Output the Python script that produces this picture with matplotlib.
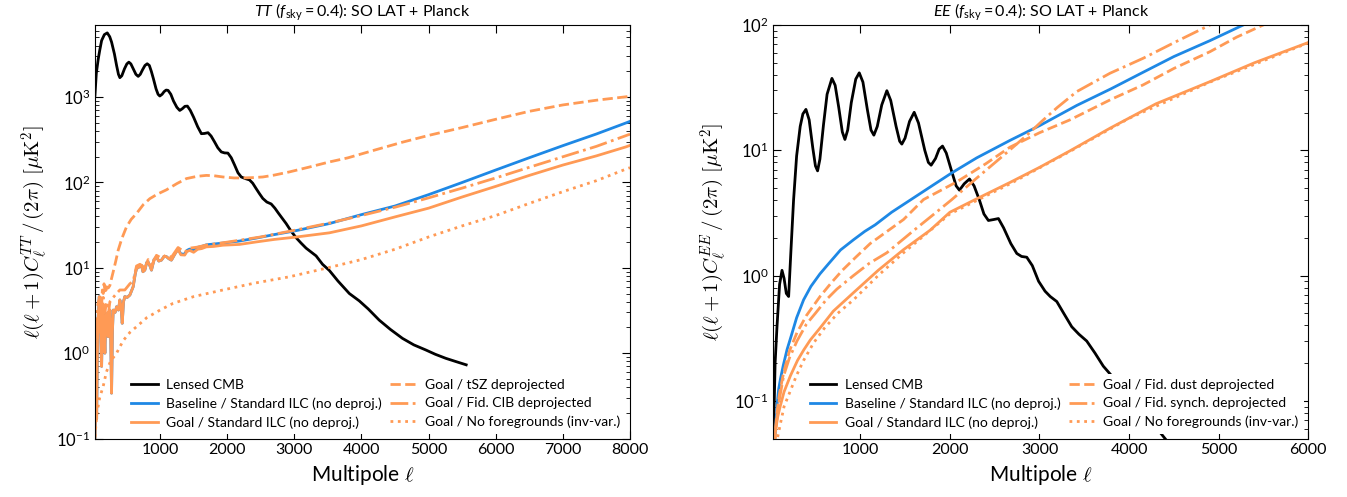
import matplotlib
matplotlib.use("Agg")
import matplotlib.pyplot as plt

plt.rcParams['font.family'] = ['Lato', 'DejaVu Sans']
plt.rcParams['mathtext.fontset'] = 'cm'
# sans math for the panel titles only
plt.rcParams['mathtext.rm'] = 'Lato'
plt.rcParams['mathtext.it'] = 'Lato:italic'
plt.rcParams['mathtext.bf'] = 'Lato:bold'

BLUE = '#1e88e5'
ORANGE = '#ff9a55'

# ---------------- TT panel ----------------
tt_cmb_ell = [30, 50, 79, 100, 129, 170, 213, 250, 278, 320, 352, 380, 401, 430, 470, 505, 535, 565,
              600, 640, 674, 705, 740, 775, 808, 840, 870, 900, 940, 970, 996, 1030, 1060, 1090,
              1119, 1160, 1200, 1250, 1293, 1330, 1370, 1407, 1450, 1500, 1560, 1615, 1660, 1714,
              1760, 1810, 1860, 1912, 1960, 2010, 2060, 2110, 2160, 2209, 2270, 2333, 2380, 2430,
              2480, 2530, 2590, 2655, 2710, 2760, 2820, 2878, 2950, 3027, 3100, 3175, 3250, 3324,
              3420, 3522, 3650, 3819, 3967, 4100, 4264, 4430, 4611, 4780, 4958, 5100, 5256, 5400,
              5560]
tt_cmb = [1050, 1900, 2800, 3500, 4600, 5400, 5660, 5100, 4400, 3200, 2350, 1850, 1690, 1780, 2150,
          2450, 2570, 2450, 2150, 1850, 1750, 1850, 2100, 2350, 2460, 2350, 2000, 1650, 1250, 1080,
          1030, 1080, 1160, 1210, 1200, 1080, 900, 760, 698, 730, 780, 785, 700, 580, 450, 373, 375,
          383, 350, 300, 255, 228, 222, 221, 195, 160, 130, 116, 111, 107, 98, 85, 74, 65, 59, 56,
          50, 44, 38, 33, 27, 22.5, 19.5, 17, 15.3, 13.8, 11, 9.3, 7.0, 5.0, 4.1, 3.3, 2.44, 1.9,
          1.49, 1.25, 1.09, 0.97, 0.87, 0.8, 0.73]

tt_ilc_ell = [30, 45, 55, 70, 94, 110, 129, 140, 153, 165, 178, 190, 203, 215, 228, 240, 252, 265,
              277, 290, 302, 330, 352, 380, 401, 420, 436, 455, 475, 510, 550, 599, 630, 649, 685,
              723, 745, 773, 800, 822, 850, 872, 910, 946, 980, 1020, 1060, 1095, 1130, 1169, 1220,
              1268, 1310, 1367, 1400, 1441, 1500, 1560, 1620, 1689, 1800, 1936, 2184, 2432, 2700,
              3000, 3522, 4000, 4500, 5000, 5500, 6000, 6500, 7000, 7500, 7945, 8000]
tt_goal_std = [0.09, 0.35, 0.17, 2.0, 4.6, 2.2, 0.7, 2.5, 3.5, 2.0, 1.0, 2.4, 2.9, 2.0, 1.56, 2.6,
               3.2, 1.5, 0.34, 1.8, 3.2, 3.0, 3.5, 3.2, 4.2, 3.5, 2.24, 4.0, 4.6, 4.5, 4.8, 6.0, 8.5,
               9.8, 10.2, 10.7, 9.0, 9.4, 11.5, 11.7, 10.5, 9.4, 12.5, 13.5, 12.0, 12.3, 13.6, 13.5,
               12.8, 12.3, 14.5, 16.4, 14.2, 14.1, 15.5, 16.0, 15.2, 16.5, 16.8, 17.6, 17.8, 18.4,
               18.8, 20.1, 21.5, 22.8, 25.7, 31, 39.5, 50, 67.6, 90, 121, 160, 205, 262, 272]
tt_base_std = [0.09, 0.35, 0.17, 2.0, 4.6, 2.2, 0.7, 2.5, 3.5, 2.0, 1.0, 2.4, 2.9, 2.0, 1.56, 2.6,
               3.2, 1.5, 0.34, 1.8, 3.2, 3.0, 3.5, 3.2, 4.2, 3.5, 2.24, 4.0, 4.6, 4.5, 4.8, 6.0, 8.5,
               9.8, 10.2, 10.7, 9.0, 9.4, 11.5, 11.7, 10.5, 9.4, 12.5, 13.5, 12.0, 12.3, 13.6, 13.5,
               12.8, 12.3, 14.5, 16.6, 14.5, 14.5, 16.0, 16.6, 16.0, 17.4, 17.8, 18.6, 19.0, 19.5,
               20.6, 22.3, 24.5, 27.0, 33, 42, 53, 72, 100, 140, 195, 270, 370, 500, 520]

tt_tsz_ell = [30, 40, 55, 70, 80, 94, 104, 115, 129, 140, 153, 165, 178, 190, 203, 228, 252, 277,
              302, 340, 376, 430, 500, 570, 649, 750, 847, 960, 1095, 1250, 1392, 1550, 1689, 1800,
              1936, 2100, 2233, 2380, 2531, 2700, 2927, 3200, 3522, 3794, 4200, 4600, 5007, 5500,
              6000, 6493, 7000, 7500, 7945, 8000]
tt_tsz = [0.3, 0.6, 1.0, 1.8, 1.6, 3.0, 2.45, 4.5, 3.5, 5.5, 5.0, 6.5, 5.5, 5.0, 6.0, 5.8, 6.2, 7.5,
          9.0, 12, 16.1, 22, 30.2, 37, 43.3, 55, 64.6, 73, 82, 97, 111, 118, 121, 120, 116, 113, 113,
          114, 116, 122, 133, 150, 174, 194, 240, 295, 357, 440, 550, 680, 810, 920, 1010, 1025]

tt_cib_ell = [30, 40, 55, 80, 104, 130, 153, 178, 203, 228, 252, 277, 302, 352, 401, 475, 550, 600,
              649, 700, 773, 822, 872, 946, 1020, 1095, 1169, 1268, 1367, 1441, 1560, 1689, 1800,
              2000, 2500, 3000, 3522, 4000, 4512, 5000, 5502, 6000, 6493, 7000, 7500, 7945, 8000]
tt_cib = [0.15, 1.0, 3.0, 4.0, 4.5, 2.5, 4.5, 3.0, 4.0, 2.8, 4.0, 4.2, 4.5, 5.0, 5.5, 5.5, 6.5, 7.0,
          10.5, 11, 10, 12.5, 10.5, 14, 13, 14.2, 13.3, 17.3, 15.2, 17, 17.5, 18.5, 19, 20, 23,
          27.5, 33.5, 41, 51.6, 66, 86, 113, 150, 200, 265, 355, 368]

tt_novar_ell = [30, 60, 100, 153, 200, 260, 352, 450, 550, 649, 800, 1000, 1193, 1500, 1936, 2400,
                2927, 3522, 4000, 4500, 5007, 5500, 6000, 6493, 7000, 7500, 7945, 8000]
tt_novar = [0.105, 0.2, 0.3, 0.41, 0.6, 0.8, 1.0, 1.4, 1.75, 2.04, 2.6, 3.2, 3.83, 4.6, 5.5, 6.6,
            7.85, 10.1, 12.5, 16.5, 23.1, 31, 41, 56.6, 78, 105, 144, 149]

# ---------------- EE panel ----------------
ee_cmb_ell = [33, 50, 71, 100, 127, 150, 175, 201, 225, 256, 290, 330, 360, 394, 430, 470, 500, 524,
              550, 590, 630, 684, 720, 760, 800, 829, 860, 900, 950, 989, 1030, 1080, 1120, 1152,
              1190, 1240, 1297, 1340, 1400, 1440, 1464, 1500, 1550, 1602, 1650, 1720, 1760, 1791,
              1840, 1880, 1918, 1960, 2020, 2070, 2107, 2160, 2219, 2270, 2330, 2380, 2430, 2490,
              2542, 2600, 2680, 2747, 2800, 2858, 2920, 2990, 3062, 3120, 3193, 3270, 3360, 3440,
              3527, 3620, 3712, 3800, 3900, 4000, 4100, 4200, 4326, 4363, 4420]
ee_cmb = [0.056, 0.2, 0.39, 0.85, 1.1, 0.95, 0.72, 0.68, 1.5, 4.0, 9, 15.5, 19.5, 21.2, 17.5, 10.5,
          7.5, 6.85, 8.5, 16, 28, 37.5, 33, 22, 14, 12.2, 14.5, 24, 37, 41.5, 35, 21, 14.5, 13.2,
          15.5, 23, 29.9, 25, 15.5, 11.8, 11.2, 12.5, 17, 20.1, 16.5, 10, 8.0, 7.6, 8.6, 10.2, 10.8,
          9.5, 6.8, 5.2, 4.8, 5.4, 5.9, 5.2, 4.0, 3.1, 2.75, 2.8, 2.85, 2.4, 1.8, 1.5, 1.42, 1.40,
          1.2, 0.9, 0.75, 0.68, 0.62, 0.5, 0.39, 0.34, 0.30, 0.24, 0.189, 0.16, 0.135, 0.11, 0.09,
          0.075, 0.058, 0.054, 0.048]

ee_base_ell = [33, 40, 52, 70, 89, 110, 140, 183, 230, 290, 368, 450, 550, 650, 780, 925, 1050,
               1167, 1350, 1557, 1800, 2022, 2300, 2672, 3007, 3416, 3800, 4158, 4500, 4902, 5273,
               5500]
ee_base = [0.035, 0.042, 0.056, 0.09, 0.123, 0.15, 0.19, 0.256, 0.33, 0.46, 0.64, 0.82, 1.03, 1.25,
           1.6, 1.93, 2.25, 2.54, 3.2, 4.0, 5.2, 6.6, 8.7, 12.0, 15.8, 22.8, 31, 42, 56, 75, 100, 118]

ee_goal_ell = [33, 52, 80, 108, 150, 220, 300, 370, 443, 550, 700, 925, 1200, 1483, 1780, 2000,
               2282, 2672, 3000, 3341, 3787, 4300, 4902, 5400, 6000]
ee_goal_std = [0.03, 0.056, 0.075, 0.091, 0.118, 0.158, 0.21, 0.255, 0.306, 0.38, 0.52, 0.73, 1.1,
               1.61, 2.3, 3.2, 4.04, 5.54, 7.3, 9.9, 15.0, 23.5, 35.3, 50, 72.5]

ee_dust_ell = [33, 50, 71, 100, 145, 210, 294, 400, 554, 680, 800, 950, 1111, 1483, 1706, 2078,
               2400, 2672, 3000, 3341, 3800, 4158, 4500, 4902, 5200, 5496, 5700]
ee_dust = [0.035, 0.055, 0.081, 0.115, 0.168, 0.25, 0.35, 0.48, 0.684, 0.88, 1.1, 1.4, 1.8, 2.8,
           4.04, 5.6, 7.8, 10.6, 13.8, 17.5, 25.5, 33.3, 45, 61.2, 80, 100, 116]

ee_synch_ell = [33, 50, 71, 100, 145, 210, 294, 400, 500, 620, 740, 925, 1100, 1297, 1600, 1800,
                2022, 2300, 2524, 2672, 2850, 3044, 3200, 3416, 3787, 4158, 4530, 4902, 5100]
ee_synch = [0.033, 0.052, 0.075, 0.105, 0.158, 0.22, 0.3, 0.41, 0.5, 0.64, 0.78, 1.0, 1.25, 1.52,
            2.3, 3.0, 4.04, 6.0, 8.2, 10.1, 13, 17.5, 22, 29.4, 41.2, 54.3, 74, 100, 115]

ee_novar_ell = [33, 52, 80, 108, 150, 220, 290, 368, 480, 600, 750, 925, 1200, 1483, 2000, 2672,
                3341, 4000, 4902, 6000]
ee_novar = [0.02, 0.04, 0.052, 0.065, 0.09, 0.12, 0.16, 0.21, 0.29, 0.38, 0.5, 0.64, 1.0, 1.52,
            3.1, 5.4, 9.8, 18, 35, 72]

fig = plt.figure(figsize=(13.47, 4.97), dpi=100)
ax1 = fig.add_axes([0.0705, 0.1177, 0.3972, 0.832])
ax2 = fig.add_axes([0.5741, 0.1177, 0.3972, 0.832])

lw = 2
ax1.plot(tt_cmb_ell, tt_cmb, color='black', lw=lw, label='Lensed CMB')
ax1.plot(tt_ilc_ell, tt_base_std, color=BLUE, lw=lw, label='Baseline / Standard ILC (no deproj.)')
ax1.plot(tt_ilc_ell, tt_goal_std, color=ORANGE, lw=lw, label='Goal / Standard ILC (no deproj.)')
ax1.plot(tt_tsz_ell, tt_tsz, color=ORANGE, lw=lw, ls='--', label='Goal / tSZ deprojected')
ax1.plot(tt_cib_ell, tt_cib, color=ORANGE, lw=lw, ls='-.', label='Goal / Fid. CIB deprojected')
ax1.plot(tt_novar_ell, tt_novar, color=ORANGE, lw=lw, ls=':', label='Goal / No foregrounds (inv-var.)')

ax2.plot(ee_cmb_ell, ee_cmb, color='black', lw=lw, label='Lensed CMB')
ax2.plot(ee_base_ell, ee_base, color=BLUE, lw=lw, label='Baseline / Standard ILC (no deproj.)')
ax2.plot(ee_goal_ell, ee_goal_std, color=ORANGE, lw=lw, label='Goal / Standard ILC (no deproj.)')
ax2.plot(ee_dust_ell, ee_dust, color=ORANGE, lw=lw, ls='--', label='Goal / Fid. dust deprojected')
ax2.plot(ee_synch_ell, ee_synch, color=ORANGE, lw=lw, ls='-.', label='Goal / Fid. synch. deprojected')
ax2.plot(ee_novar_ell, ee_novar, color=ORANGE, lw=lw, ls=':', label='Goal / No foregrounds (inv-var.)')

ax1.set_xlim(30, 8000)
ax1.set_ylim(0.1, 7000)
ax1.set_xticks([1000, 2000, 3000, 4000, 5000, 6000, 7000, 8000])
ax2.set_xlim(30, 6000)
ax2.set_ylim(0.05, 100)
ax2.set_xticks([1000, 2000, 3000, 4000, 5000, 6000])

ax1.set_title(r'$TT\ (f_{\rm sky}=0.4)$: SO LAT + Planck', fontsize=11.5, math_fontfamily='custom')
ax2.set_title(r'$EE\ (f_{\rm sky}=0.4)$: SO LAT + Planck', fontsize=11.5, math_fontfamily='custom')
ax1.set_ylabel(r'$\ell(\ell+1)C_\ell^{TT}\,/\,(2\pi)\ [\mu{\rm K}^2]$', fontsize=15)
ax2.set_ylabel(r'$\ell(\ell+1)C_\ell^{EE}\,/\,(2\pi)\ [\mu{\rm K}^2]$', fontsize=15)

for ax in (ax1, ax2):
    ax.set_yscale('log')
    ax.set_xlabel(r'Multipole $\ell$', fontsize=15)
    ax.tick_params(which='both', direction='in', top=True, right=True)
    ax.tick_params(which='major', length=6, labelsize=12)
    ax.tick_params(which='minor', length=3)
    ax.tick_params(axis='x', labelsize=11.5)
    leg = ax.legend(loc='lower right', ncol=2, fontsize=10, frameon=True, framealpha=1,
                    handlelength=1.9, handletextpad=0.6, columnspacing=0.6, labelspacing=0.45,
                    borderaxespad=0.3)
    leg.get_frame().set_edgecolor('none')
    leg.get_frame().set_facecolor('white')

plt.savefig('out.png', dpi=100)
